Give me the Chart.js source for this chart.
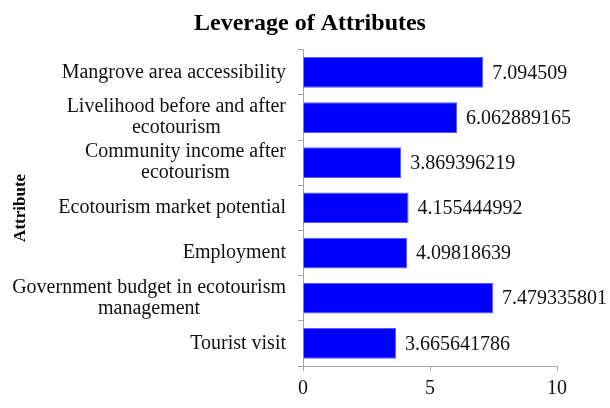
<!DOCTYPE html>
<html>
<head>
<meta charset="utf-8">
<title>Leverage of Attributes</title>
<script src="https://cdn.jsdelivr.net/npm/chart.js@4"></script>
<style>
  body { margin: 0; background: #fff; }
  #wrap { width: 610px; height: 408px; }
</style>
</head>
<body>
<div id="wrap"><canvas id="leverageChart" width="610" height="408"></canvas></div>
<script>
const attributes = [
  "Mangrove area accessibility",
  ["Livelihood before and after", "ecotourism"],
  ["Community income after", "ecotourism"],
  "Ecotourism market potential",
  "Employment",
  ["Government budget in ecotourism", "management"],
  "Tourist visit",
];
const leverage = [7.094509, 6.062889165, 3.869396219, 4.155444992, 4.09818639, 7.479335801, 3.665641786];
const xTicks = [0, 5, 10];

const serif = "'Liberation Serif', 'Times New Roman', serif";

// attribute names: each block sits against the axis, its lines centred on each other
const attributeLabels = {
  id: "attributeLabels",
  afterDraw(chart) {
    const ctx = chart.ctx;
    const yScale = chart.scales.y;
    const right = yScale.right - 17;
    const lineH = 21;
    ctx.save();
    ctx.font = "20px " + serif;
    ctx.fillStyle = "#111";
    ctx.textAlign = "center";
    ctx.textBaseline = "middle";
    attributes.forEach((label, i) => {
      const lines = Array.isArray(label) ? label : [label];
      const blockW = Math.max(...lines.map((l) => ctx.measureText(l).width));
      const cx = right - blockW / 2;
      const y0 = yScale.getPixelForValue(i) - ((lines.length - 1) * lineH) / 2;
      lines.forEach((l, j) => ctx.fillText(l, cx, y0 + j * lineH));
    });
    ctx.restore();
  },
};

// value printed after the end of each bar
const valueLabels = {
  id: "valueLabels",
  afterDatasetsDraw(chart) {
    const ctx = chart.ctx;
    const meta = chart.getDatasetMeta(0);
    ctx.save();
    ctx.font = "20px " + serif;
    ctx.fillStyle = "#111";
    ctx.textAlign = "left";
    ctx.textBaseline = "middle";
    meta.data.forEach((bar, i) => {
      ctx.fillText(String(leverage[i]), bar.x + 9, bar.y + 1);
    });
    ctx.restore();
  },
};

new Chart(document.getElementById("leverageChart"), {
  type: "bar",
  data: {
    labels: attributes,
    datasets: [
      {
        data: leverage,
        backgroundColor: "#0000ff",
        borderColor: "#5a5aff",
        borderWidth: 1,
        barPercentage: 0.68,
        categoryPercentage: 1,
      },
    ],
  },
  options: {
    indexAxis: "y",
    responsive: false,
    animation: false,
    layout: { padding: { left: 10, right: 0, top: 0, bottom: 1 } },
    plugins: {
      legend: { display: false },
      tooltip: { enabled: false },
      title: {
        display: true,
        text: "Leverage of Attributes",
        color: "#000",
        font: { family: serif, size: 24, weight: "bold" },
        padding: { top: 9, bottom: 12 },
      },
    },
    scales: {
      x: {
        min: 0,
        max: 10,
        afterBuildTicks(scale) {
          scale.ticks = xTicks.map((v) => ({ value: v }));
        },
        afterFit(scale) {
          scale.paddingRight = 53;
        },
        border: { color: "#a6a6a6" },
        grid: { drawOnChartArea: false, tickLength: 5, color: "#a6a6a6" },
        ticks: { color: "#111", padding: 6, font: { family: serif, size: 20 } },
      },
      y: {
        afterFit(scale) {
          scale.width = 293;
        },
        border: { color: "#a6a6a6" },
        grid: { drawOnChartArea: false, tickLength: 5, color: "#a6a6a6" },
        ticks: { display: false },
        title: {
          display: true,
          text: "Attribute",
          color: "#000",
          font: { family: serif, size: 17, weight: "bold" },
          padding: 0,
        },
      },
    },
  },
  plugins: [attributeLabels, valueLabels],
});
</script>
</body>
</html>
